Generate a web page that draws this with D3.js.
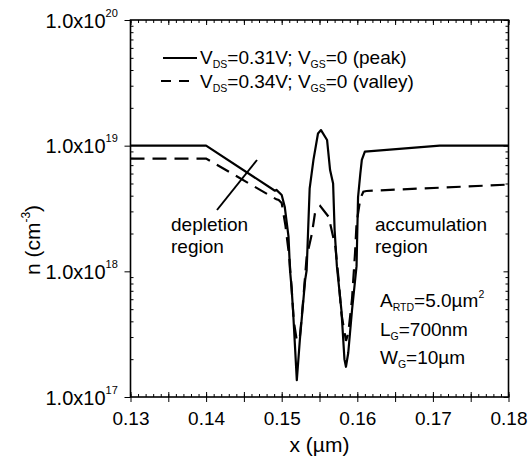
<!DOCTYPE html>
<html>
<head>
<meta charset="utf-8">
<script src="https://cdn.jsdelivr.net/npm/d3@7"></script>
<style>
  body { margin: 0; background: #fff; }
  svg { font-family: Arial, "Liberation Sans", Helvetica, sans-serif; }
</style>
</head>
<body>
<div id="chart"></div>
<script>
// tick labels
const xTicks = [0.13, 0.14, 0.15, 0.16, 0.17, 0.18];
const yTickExp = [17, 18, 19, 20];

// solid curve: V_DS=0.31V (peak)
const peakX = [0.130, 0.140, 0.1491, 0.1493, 0.1500, 0.1504, 0.1509, 0.1511, 0.1513, 0.1515, 0.1520,
  0.1524, 0.1531, 0.1533, 0.1537, 0.1542, 0.1548, 0.1552, 0.1560, 0.1564, 0.1568, 0.1570, 0.1573,
  0.1579, 0.1583, 0.1585, 0.1588, 0.1593, 0.1599, 0.1601, 0.1604, 0.1606, 0.1610, 0.1709, 0.180];
const peakN = [1.0e19, 1.0e19, 4.38e18, 4.45e18, 4.05e18, 3.27e18, 1.89e18, 1.02e18, 7.5e17, 4.9e17, 1.36e17,
  2.84e17, 8.5e17, 1.02e18, 4.58e18, 7.7e18, 1.25e19, 1.33e19, 1.11e19, 6.4e18, 5.0e18, 2.13e18, 1.1e18,
  4.9e17, 2.0e17, 1.74e17, 2.24e17, 4.9e17, 1.1e18, 3.9e18, 6.0e18, 7.7e18, 8.95e18, 1.0e19, 1.0e19];

// dashed curve: V_DS=0.34V (valley)
const valleyX = [0.130, 0.140, 0.1493, 0.1496, 0.1500, 0.1505, 0.1510, 0.1513, 0.1516, 0.1520, 0.1524,
  0.1528, 0.1533, 0.1540, 0.1544, 0.1551, 0.1562, 0.1565, 0.1571, 0.1575, 0.1579, 0.1585, 0.1588,
  0.1593, 0.1597, 0.1599, 0.1604, 0.1608, 0.1612, 0.180];
const valleyN = [7.9e18, 7.9e18, 3.74e18, 3.7e18, 3.5e18, 2.3e18, 1.3e18, 7.5e17, 4.0e17, 2.8e17, 3.0e17,
  5.5e17, 1.3e18, 2.0e18, 2.9e18, 3.3e18, 2.72e18, 2.27e18, 1.57e18, 9e17, 4.6e17, 2.8e17, 3.2e17,
  6.0e17, 1.4e18, 2.4e18, 3.8e18, 4.3e18, 4.36e18, 4.9e18];

const width = 532, height = 466;
const mLeft = 130.5, mRight = 508.5, mTop = 20, mBottom = 397;

const svg = d3.select("#chart").append("svg")
  .attr("width", width)
  .attr("height", height);

const x = d3.scaleLinear().domain([0.13, 0.18]).range([mLeft, mRight]);
const y = d3.scaleLog().domain([1e17, 1e20]).range([mBottom, mTop]);

const xMajor = d3.range(0, 11).map(i => +(0.13 + i * 0.005).toFixed(3));
const xMinor = d3.range(0, 51).map(i => +(0.13 + i * 0.001).toFixed(3));
const yMajor = yTickExp.map(e => Math.pow(10, e));
const yMinor = [];
yTickExp.slice(0, 3).forEach(e => {
  for (let k = 2; k <= 9; k++) yMinor.push(k * Math.pow(10, e));
});

function tickGroup(axis) {
  const g = svg.append("g").call(axis);
  g.select(".domain").remove();
  g.selectAll("line").attr("stroke", "#000").attr("stroke-width", 1);
  return g;
}

// bottom axis
tickGroup(d3.axisBottom(x).tickValues(xMinor).tickSize(-3).tickFormat(""))
  .attr("transform", `translate(0,${mBottom})`);
tickGroup(d3.axisBottom(x).tickValues(xMajor).tickSize(-5).tickFormat(""))
  .attr("transform", `translate(0,${mBottom})`);
const xAx = tickGroup(d3.axisBottom(x).tickValues(xMajor).tickSize(5).tickPadding(10)
  .tickFormat(d => xTicks.some(t => Math.abs(t - d) < 1e-9) ? d3.format(".2f")(d) : ""))
  .attr("transform", `translate(0,${mBottom})`);
xAx.selectAll("text").attr("font-size", 19).attr("fill", "#000")
  .attr("font-family", "Arial, 'Liberation Sans', sans-serif");

// top axis
tickGroup(d3.axisTop(x).tickValues(xMinor).tickSize(-3).tickFormat(""))
  .attr("transform", `translate(0,${mTop})`);
tickGroup(d3.axisTop(x).tickValues(xMajor).tickSize(-5).tickFormat(""))
  .attr("transform", `translate(0,${mTop})`);

// left axis
tickGroup(d3.axisLeft(y).tickValues(yMinor).tickSize(-3).tickFormat(""))
  .attr("transform", `translate(${mLeft},0)`);
const yAx = tickGroup(d3.axisLeft(y).tickValues(yMajor).tickSize(6).tickFormat(""))
  .attr("transform", `translate(${mLeft},0)`);
yAx.selectAll(".tick text").remove();
yAx.selectAll(".tick").each(function (d) {
  const t = d3.select(this).append("text")
    .attr("x", -85)
    .attr("y", 7)
    .attr("text-anchor", "start")
    .attr("font-size", 20)
    .attr("font-family", "Arial, 'Liberation Sans', sans-serif")
    .attr("fill", "#000");
  t.append("tspan").text("1.0x10");
  t.append("tspan").attr("font-size", 11).attr("dy", -11).text(Math.round(Math.log10(d)));
});

// right axis
tickGroup(d3.axisRight(y).tickValues(yMinor).tickSize(-3).tickFormat(""))
  .attr("transform", `translate(${mRight},0)`);
tickGroup(d3.axisRight(y).tickValues(yMajor).tickSize(-5).tickFormat(""))
  .attr("transform", `translate(${mRight},0)`);

// frame
svg.append("rect")
  .attr("x", mLeft).attr("y", mTop)
  .attr("width", mRight - mLeft).attr("height", mBottom - mTop)
  .attr("fill", "none").attr("stroke", "#000").attr("stroke-width", 1.6);

// curves
const line = d3.line().x(d => x(d[0])).y(d => y(d[1]));
svg.append("path")
  .datum(peakX.map((v, i) => [v, peakN[i]]))
  .attr("d", line)
  .attr("fill", "none").attr("stroke", "#000").attr("stroke-width", 2.2)
  .attr("stroke-linejoin", "round");
svg.append("path")
  .datum(valleyX.map((v, i) => [v, valleyN[i]]))
  .attr("d", line)
  .attr("fill", "none").attr("stroke", "#000").attr("stroke-width", 2.2)
  .attr("stroke-dasharray", "14,8");

// axis titles
svg.append("text")
  .attr("x", (mLeft + mRight) / 2).attr("y", 452)
  .attr("text-anchor", "middle").attr("font-size", 21)
  .text("x (\u00b5m)");
const yt = svg.append("text")
  .attr("transform", "translate(40,240) rotate(-90)")
  .attr("text-anchor", "middle").attr("font-size", 21);
yt.append("tspan").text("n (cm");
yt.append("tspan").attr("font-size", 12).attr("dy", -10).text("-3");
yt.append("tspan").attr("dy", 10).text(")");

// legend
function subText(g, xPos, yPos, parts) {
  const t = g.append("text").attr("x", xPos).attr("y", yPos).attr("font-size", 19);
  parts.forEach(p => {
    if (p.sub) t.append("tspan").attr("font-size", 10.5).attr("dy", 4).text(p.sub);
    else if (p.sup) t.append("tspan").attr("font-size", 10.5).attr("dy", -9).text(p.sup);
    else t.append("tspan").attr("dy", p.back || 0).text(p.t);
  });
  return t;
}
const legend = svg.append("g");
legend.append("line").attr("x1", 163).attr("x2", 197).attr("y1", 58).attr("y2", 58)
  .attr("stroke", "#000").attr("stroke-width", 2.2);
legend.append("line").attr("x1", 161).attr("x2", 197).attr("y1", 81).attr("y2", 81)
  .attr("stroke", "#000").attr("stroke-width", 2.2).attr("stroke-dasharray", "10,8");
subText(legend, 200, 64, [{ t: "V" }, { sub: "DS" }, { t: "=0.31V; V", back: -4 }, { sub: "GS" }, { t: "=0 (peak)", back: -4 }]);
subText(legend, 200, 88, [{ t: "V" }, { sub: "DS" }, { t: "=0.34V; V", back: -4 }, { sub: "GS" }, { t: "=0 (valley)", back: -4 }]);

// annotations
svg.append("line").attr("x1", 217).attr("y1", 210).attr("x2", 257).attr("y2", 160)
  .attr("stroke", "#000").attr("stroke-width", 2);
const ann = svg.append("g").attr("font-size", 19);
ann.append("text").attr("x", 171).attr("y", 231).text("depletion");
ann.append("text").attr("x", 171).attr("y", 253).text("region");
ann.append("text").attr("x", 375).attr("y", 231).text("accumulation");
ann.append("text").attr("x", 375).attr("y", 253).text("region");

subText(svg, 380, 307, [{ t: "A" }, { sub: "RTD" }, { t: "=5.0\u00b5m", back: -4 }, { sup: "2" }]);
subText(svg, 380, 336, [{ t: "L" }, { sub: "G" }, { t: "=700nm", back: -4 }]);
subText(svg, 380, 364, [{ t: "W" }, { sub: "G" }, { t: "=10\u00b5m", back: -4 }]);
</script>
</body>
</html>
